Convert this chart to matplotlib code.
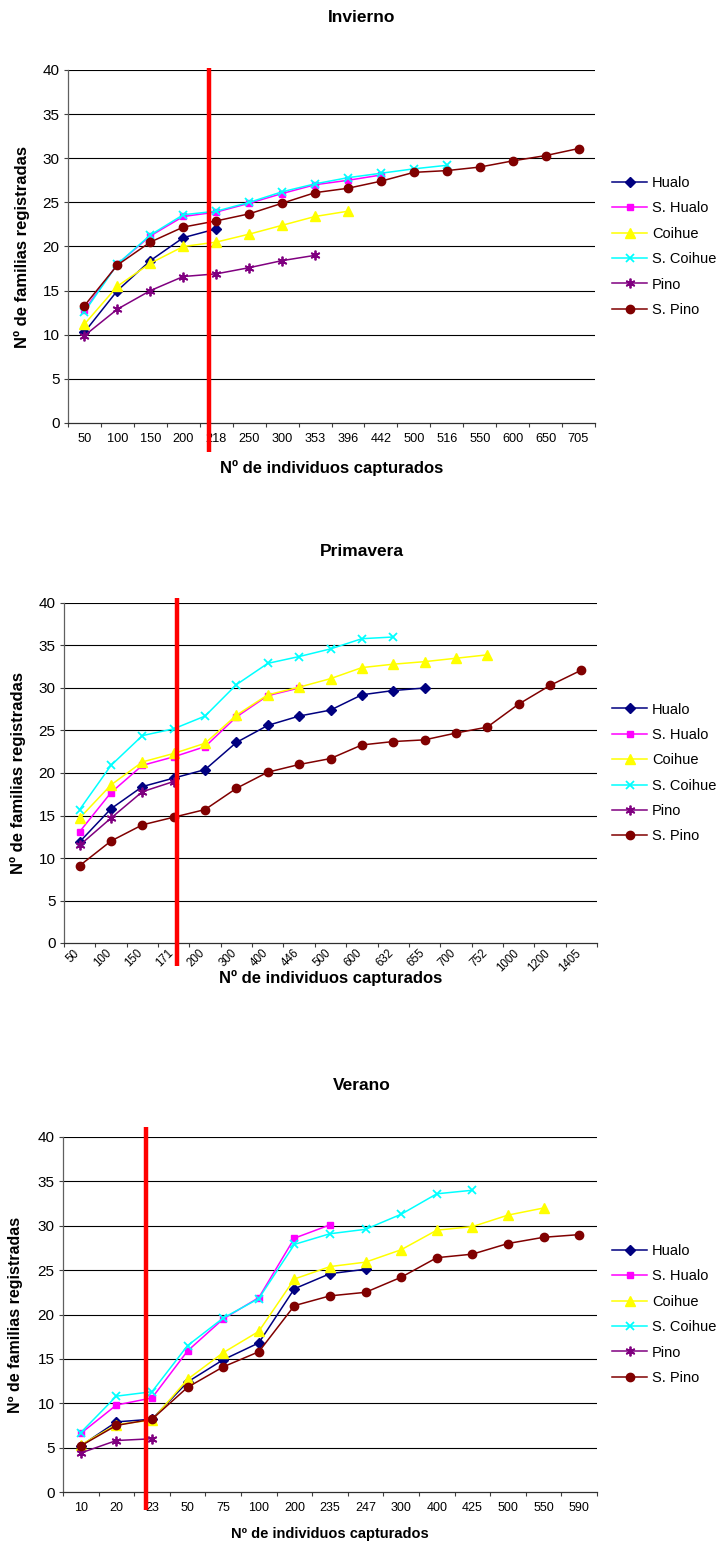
import matplotlib
matplotlib.use('Agg')
import matplotlib.pyplot as plt
import matplotlib.transforms as mtransforms
import numpy as np

plt.rcParams['font.family'] = ['Liberation Sans', 'DejaVu Sans']

W, H = 725, 1545

series_names = ['Hualo', 'S. Hualo', 'Coihue', 'S. Coihue', 'Pino', 'S. Pino']
colors = ['#000080', '#FF00FF', '#FFFF00', '#00FFFF', '#800080', '#800000']
markers = ['D', 's', '^', 'x', (6, 2, 0), 'o']
msizes = [5, 5, 7, 6, 7, 6]

# ---- Invierno ----
inv_cats = ['50', '100', '150', '200', '218', '250', '300', '353', '396', '442',
            '500', '516', '550', '600', '650', '705']
inv_hualo = [10.3, 15.0, 18.4, 21.0, 22.0]
inv_s_hualo = [12.8, 18.0, 21.2, 23.4, 23.9, 24.9, 26.0, 27.0, 27.5, 28.1]
inv_coihue = [11.2, 15.5, 18.1, 20.0, 20.5, 21.4, 22.4, 23.4, 24.0]
inv_s_coihue = [12.6, 18.0, 21.3, 23.6, 24.0, 25.0, 26.2, 27.1, 27.8, 28.3, 28.8, 29.2]
inv_pino = [9.9, 12.9, 15.0, 16.6, 16.9, 17.6, 18.4, 19.0]
inv_s_pino = [13.3, 17.9, 20.5, 22.2, 22.9, 23.7, 24.9, 26.1, 26.6, 27.4, 28.4,
              28.6, 29.0, 29.7, 30.3, 31.1]
inv_red = 3.78

# ---- Primavera ----
pri_cats = ['50', '100', '150', '171', '200', '300', '400', '446', '500', '600',
            '632', '655', '700', '752', '1000', '1200', '1405']
pri_hualo = [11.9, 15.8, 18.4, 19.4, 20.4, 23.6, 25.6, 26.7, 27.4, 29.2, 29.7, 30.0]
pri_s_hualo = [13.1, 17.7, 20.9, 21.9, 23.1, 26.6, 29.1, 30.0]
pri_coihue = [14.7, 18.6, 21.3, 22.3, 23.5, 26.8, 29.2, 30.1, 31.1, 32.4, 32.8,
              33.1, 33.5, 33.9]
pri_s_coihue = [15.7, 20.9, 24.4, 25.2, 26.7, 30.4, 32.9, 33.7, 34.6, 35.8, 36.0]
pri_pino = [11.5, 14.7, 17.8, 19.0]
pri_s_pino = [9.1, 12.0, 13.9, 14.8, 15.7, 18.2, 20.1, 21.0, 21.7, 23.3, 23.7,
              23.9, 24.7, 25.4, 28.1, 30.3, 32.1]
pri_red = 3.11

# ---- Verano ----
ver_cats = ['10', '20', '23', '50', '75', '100', '200', '235', '247', '300', '400',
            '425', '500', '550', '590']
ver_hualo = [5.2, 7.9, 8.2, 12.4, 14.9, 16.8, 22.9, 24.6, 25.1]
ver_s_hualo = [6.6, 9.8, 10.6, 15.9, 19.5, 21.9, 28.6, 30.1]
ver_coihue = [5.3, 7.6, 8.1, 12.7, 15.7, 18.1, 24.0, 25.4, 25.9, 27.3, 29.5,
              29.9, 31.2, 32.0]
ver_s_coihue = [6.7, 10.8, 11.3, 16.5, 19.6, 21.8, 27.9, 29.1, 29.6, 31.3, 33.6, 34.0]
ver_pino = [4.4, 5.8, 6.0]
ver_s_pino = [5.2, 7.5, 8.2, 11.8, 14.1, 15.8, 21.0, 22.1, 22.5, 24.2, 26.4,
              26.8, 28.0, 28.7, 29.0]
ver_red = 1.82

panels = [
    dict(title='Invierno', cats=inv_cats,
         data=[inv_hualo, inv_s_hualo, inv_coihue, inv_s_coihue, inv_pino, inv_s_pino],
         red=inv_red, box=(68, 70, 595, 423), title_y=18, xlab_y=468, ylab_x=22,
         red_span=(-0.081, 1.006), xt_size=9.2, xt_rot=0, xlab_size=12, ylab_size=12),
    dict(title='Primavera', cats=pri_cats,
         data=[pri_hualo, pri_s_hualo, pri_coihue, pri_s_coihue, pri_pino, pri_s_pino],
         red=pri_red, box=(64, 603, 597, 943), title_y=552, xlab_y=978, ylab_x=18,
         red_span=(-0.068, 1.015), xt_size=8.3, xt_rot=45, xlab_size=12, ylab_size=12),
    dict(title='Verano', cats=ver_cats,
         data=[ver_hualo, ver_s_hualo, ver_coihue, ver_s_coihue, ver_pino, ver_s_pino],
         red=ver_red, box=(63, 1137, 597, 1492), title_y=1085, xlab_y=1534, ylab_x=16,
         red_span=(-0.051, 1.029), xt_size=9, xt_rot=0, xlab_size=10.5, ylab_size=11.5),
]

fig = plt.figure(figsize=(W / 100, H / 100), dpi=100)

for p in panels:
    l, t, r, b = p['box']
    ax = fig.add_axes([l / W, 1 - b / H, (r - l) / W, (b - t) / H])
    n = len(p['cats'])
    for name, vals, c, m, ms in zip(series_names, p['data'], colors, markers, msizes):
        x = np.arange(len(vals))
        mew = 1.3 if m in ('x',) or isinstance(m, tuple) else 1.0
        ax.plot(x, vals, color=c, lw=1.1, marker=m, markersize=ms,
                markerfacecolor=c, markeredgecolor=c, markeredgewidth=mew,
                label=name, zorder=3)
    ax.set_xlim(-0.5, n - 0.5)
    ax.set_ylim(0, 40)
    ax.set_yticks(np.arange(0, 41, 5))
    ax.tick_params(axis='y', direction='out', length=3, width=0.8, labelsize=11,
                   pad=3, color='#404040')
    ax.set_xticks(np.arange(n))
    if p['xt_rot']:
        ax.set_xticklabels(p['cats'], rotation=45, ha='right', va='top',
                           rotation_mode='anchor')
        ax.tick_params(axis='x', which='major', length=0, pad=3, labelsize=p['xt_size'])
        shift = mtransforms.ScaledTranslation(-6 / 100, 0, fig.dpi_scale_trans)
        for lab in ax.get_xticklabels():
            lab.set_transform(lab.get_transform() + shift)
    else:
        ax.set_xticklabels(p['cats'])
        ax.tick_params(axis='x', which='major', length=0, pad=7, labelsize=p['xt_size'])
    ax.set_xticks(np.arange(n + 1) - 0.5, minor=True)
    ax.tick_params(axis='x', which='minor', direction='out', length=3, width=0.8,
                   color='#404040')
    for yv in range(5, 41, 5):
        ax.axhline(yv, color='black', lw=0.8, zorder=1)
    for s in ['top', 'right']:
        ax.spines[s].set_visible(False)
    ax.spines['left'].set_color('#606060')
    ax.spines['bottom'].set_color('#303030')
    ax.spines['left'].set_linewidth(0.9)
    ax.spines['bottom'].set_linewidth(0.9)
    trans = mtransforms.blended_transform_factory(ax.transData, ax.transAxes)
    ax.plot([p['red'], p['red']], list(p['red_span']), color='#FF0000', lw=3.2,
            transform=trans, clip_on=False, zorder=5, solid_capstyle='butt')
    ax.legend(loc='center left', bbox_to_anchor=((612 - l) / (r - l), 0.5),
              frameon=False, fontsize=10.5, borderpad=0, borderaxespad=0,
              handlelength=2.4, handletextpad=0.35, labelspacing=0.78)
    fig.text(362 / W, 1 - p['title_y'] / H, p['title'], ha='center', va='center',
             fontsize=12.5, fontweight='bold')
    fig.text((l + r) / 2 / W, 1 - p['xlab_y'] / H, 'Nº de individuos capturados',
             ha='center', va='center', fontsize=p['xlab_size'], fontweight='bold')
    fig.text(p['ylab_x'] / W, 1 - (t + b) / 2 / H, 'Nº de familias registradas',
             ha='center', va='center', rotation=90, fontsize=p['ylab_size'],
             fontweight='bold')

fig.savefig('out.png', dpi=100)
